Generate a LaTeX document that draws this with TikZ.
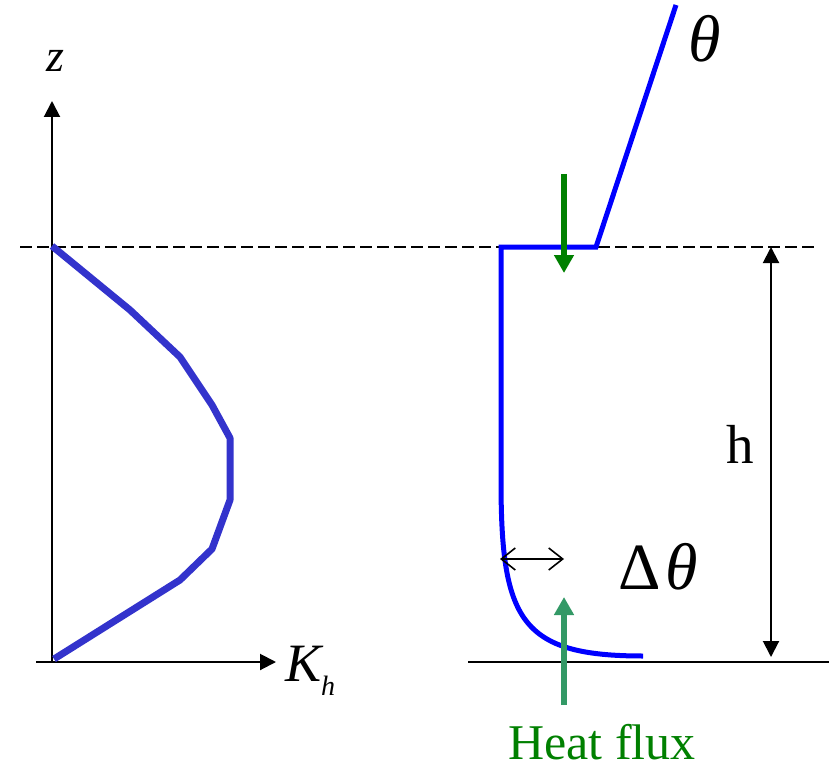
\documentclass[tikz,border=0pt]{standalone}
\usepackage{fontspec}
\setmainfont{Liberation Serif}
\usetikzlibrary{arrows.meta}
\definecolor{khblue}{RGB}{51,51,204}
\definecolor{thblue}{RGB}{0,0,255}
\definecolor{dgreen}{RGB}{0,128,0}
\definecolor{sgreen}{RGB}{51,153,102}
\tikzset{
  axis/.style={line width=2pt,-{Triangle[length=16pt,width=16pt]}},
  profile/.style={line width=7pt,khblue,line join=round},
  thprof/.style={line width=5pt,thblue,line join=miter},
  flux/.style={line width=6pt,-{Triangle[length=18pt,width=19pt]}},
  lbl/.style={inner sep=0pt,anchor=center},
}
\begin{document}
\begin{tikzpicture}[x=1pt,y=-1pt]
\useasboundingbox (0,0) rectangle (829,770);
% coordinates
\coordinate (o) at (52,662);
\coordinate (ztip) at (52,101);
\coordinate (xl) at (36,662);
\coordinate (ktip) at (276,662);
\coordinate (dl) at (20,246.5);
\coordinate (dr) at (818,246.5);
\coordinate (gl) at (468,662);
\coordinate (gr) at (829,662);
% dashed line
\draw[line width=2pt,dash pattern=on 12pt off 5pt] (dl) -- (dr);
% axes
\draw[line width=2pt] (xl) -- (o);
\draw[axis] (o) -- (ztip);
\draw[axis] (o) -- (ktip);
% ground
\draw[line width=2pt] (gl) -- (gr);
% Kh profile
\draw[profile] (52,246) -- (130,310) -- (180,357) -- (212,405) -- (230,438) -- (230,500) -- (212,549) -- (180,580) -- (54,659);
% theta profile
\draw[thprof] (676,5) -- (596,247) -- (501,247) -- (501,480) .. controls (501,620) and (520,656) .. (643,656);
% h arrow
\coordinate (ht) at (771,247);
\coordinate (hb) at (771,657);
\draw[line width=2pt,{Triangle[length=16pt,width=16pt]}-{Triangle[length=16pt,width=16pt]}] (ht) -- (hb);
% green arrows
\coordinate (g1a) at (564,174);
\coordinate (g1b) at (564,273);
\draw[flux,dgreen] (g1a) -- (g1b);
\coordinate (g2a) at (564,705);
\coordinate (g2b) at (564,597);
\draw[flux,sgreen] (g2a) -- (g2b);
% delta theta arrow
\coordinate (da) at (500,559);
\coordinate (db) at (564,559);
\draw[line width=1.6pt,{Straight Barb[length=14pt,width=22pt]}-{Straight Barb[length=14pt,width=22pt]}] (da) -- (db);
% labels
\node[lbl,anchor=base] (zl) at (55,72) {\fontsize{46}{46}\selectfont\itshape z};
\node[lbl,anchor=base west] (kl) at (285,681) {\fontsize{54}{54}\selectfont\itshape K\raisebox{-14pt}{\fontsize{28}{28}\selectfont h}};
\node[lbl,anchor=base] (thl) at (705,62) {\fontsize{66}{66}\selectfont\itshape θ};
\node[lbl,anchor=base] (hl) at (740,463) {\fontsize{55}{55}\selectfont h};
\node[lbl,anchor=base] (dtl) at (658,589) {\fontsize{66}{66}\selectfont Δ\kern4pt\itshape θ};
\node[lbl,anchor=base,dgreen] (hf) at (602,759) {\fontsize{50}{50}\selectfont Heat flux};
\end{tikzpicture}
\end{document}
